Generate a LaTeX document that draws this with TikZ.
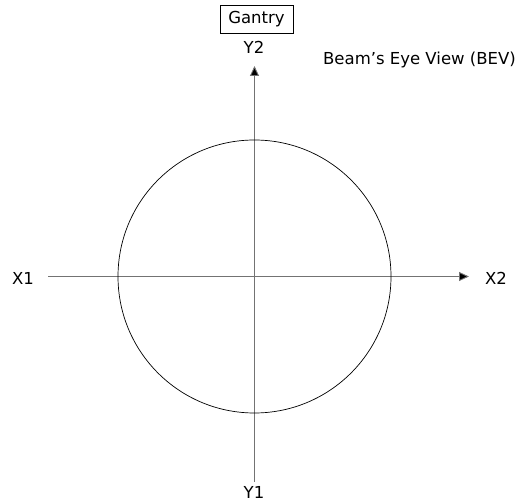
\documentclass[tikz,border=0pt]{standalone}
\usepackage{fontspec}
\setmainfont{DejaVu Sans}
\usetikzlibrary{arrows.meta}
\begin{document}
\begin{tikzpicture}[x=1pt,y=-1pt,
  lbl/.style={font=\fontsize{16.5}{19}\selectfont, inner sep=0pt},
  axis/.style={draw=black!55, line width=0.9pt, -{Triangle[length=10pt,width=9pt,fill=black]}},
  axisplain/.style={draw=black!55, line width=0.9pt}]
\useasboundingbox (0,0) rectangle (517,502);
\node[lbl, draw, line width=0.6pt, minimum width=73pt, minimum height=28pt] (gantry) at (256.5,19) {Gantry};
\node[lbl] (y2) at (254,47) {Y2};
\node[lbl] (y1) at (254,492) {Y1};
\node[lbl] (x1) at (23,278) {X1};
\node[lbl] (x2) at (496,278) {X2};
\node[lbl, anchor=east] (bev) at (516,60) {Beam’s Eye View (BEV)};
\coordinate (c) at (254.5,276.5);
\coordinate (ytop) at (254.5,66);
\coordinate (ybot) at (254.5,482);
\coordinate (xl) at (48,276.5);
\coordinate (xr) at (469,276.5);
\draw[axisplain] (ybot) -- (c);
\draw[axis] (c) -- (ytop);
\draw[axisplain] (xl) -- (c);
\draw[axis] (c) -- (xr);
\draw[line width=0.7pt] (c) circle (136.5);
\end{tikzpicture}
\end{document}
